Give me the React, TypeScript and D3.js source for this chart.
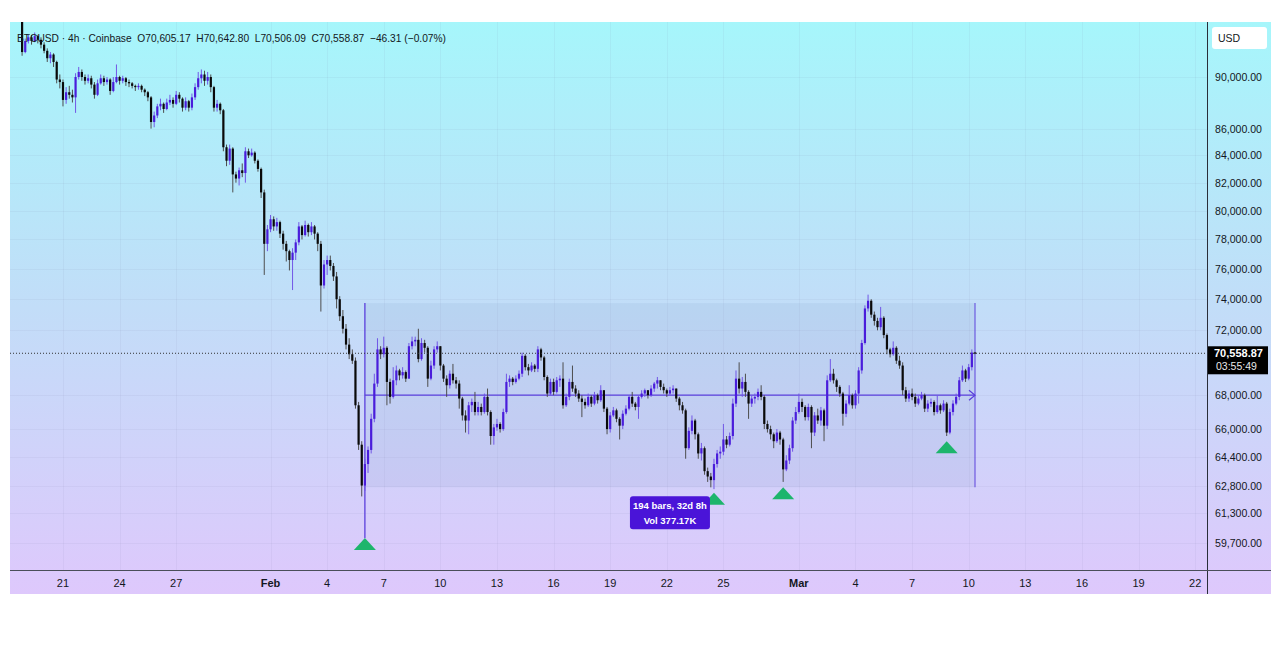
import * as d3 from "d3";

// BTCUSD 4h candles, first visible bar opens Jan 18 20:00 UTC.
// Each bar: [high, low, close] in thousands USD, open = previous close.
const FIRST_BAR = Date.UTC(2026, 0, 18, 20);
const BAR_MS = 4 * 3600 * 1000;
const FIRST_OPEN = 95.0;

const hlc: [number, number, number][] = [
  [95.5, 91.7, 92.0], [93.1, 91.9, 92.9], [93.4, 92.7, 93.2], [93.4, 92.6, 92.9], [93.6, 92.8, 93.3],
  [93.4, 92.7, 93.0], [93.2, 92.3, 92.6], [92.8, 91.9, 92.1], [92.3, 91.2, 91.5], [92.0, 91.1, 91.8],
  [91.9, 90.8, 91.2], [91.3, 89.5, 89.8], [90.2, 89.1, 89.6], [89.8, 87.7, 88.2], [89.2, 87.9, 88.8],
  [89.3, 88.3, 88.6], [89.0, 88.0, 88.4], [90.3, 87.2, 90.0], [90.8, 89.8, 90.4], [90.6, 89.7, 90.0],
  [90.2, 89.4, 89.7], [90.2, 89.5, 89.9], [90.1, 89.1, 89.4], [89.6, 88.3, 88.6], [89.8, 88.5, 89.5],
  [90.2, 89.4, 89.9], [90.1, 89.3, 89.6], [90.0, 89.4, 89.8], [89.9, 88.6, 88.9], [90.0, 88.8, 89.6],
  [91.0, 89.5, 90.0], [90.1, 89.4, 89.7], [90.1, 89.5, 89.9], [90.0, 89.3, 89.6], [89.8, 89.2, 89.5],
  [89.6, 89.1, 89.3], [89.4, 88.9, 89.2], [89.5, 89.0, 89.3], [89.4, 88.8, 89.0], [89.1, 88.5, 88.8],
  [88.9, 88.1, 88.4], [88.5, 86.0, 86.5], [87.3, 86.1, 87.0], [87.9, 86.8, 87.7], [88.3, 87.4, 87.9],
  [88.0, 87.2, 87.5], [88.3, 87.4, 88.0], [88.6, 87.8, 88.2], [88.4, 87.6, 87.9], [88.9, 87.8, 88.6],
  [88.8, 88.0, 88.3], [88.4, 87.3, 87.6], [88.4, 87.4, 88.1], [88.2, 87.3, 87.6], [88.7, 87.4, 88.4],
  [89.5, 88.2, 89.2], [90.4, 89.0, 89.9], [90.6, 89.5, 90.2], [90.5, 89.3, 89.7], [90.4, 89.4, 90.0],
  [90.2, 88.8, 89.2], [89.3, 87.3, 87.6], [88.2, 87.3, 87.9], [88.0, 87.1, 87.4], [87.5, 84.3, 84.6],
  [84.8, 83.2, 83.6], [84.8, 83.3, 84.5], [84.6, 81.3, 82.6], [82.8, 82.0, 82.3], [83.1, 81.8, 82.9],
  [83.4, 82.4, 82.7], [84.6, 82.0, 84.3], [84.5, 83.8, 84.0], [84.5, 83.9, 84.2], [84.3, 83.4, 83.6],
  [83.7, 82.8, 83.0], [83.1, 80.9, 81.3], [81.5, 75.6, 77.7], [79.0, 77.2, 78.7], [79.7, 78.5, 79.4],
  [79.6, 78.6, 78.9], [79.5, 78.6, 79.2], [79.3, 78.1, 78.4], [78.6, 77.3, 77.7], [77.9, 76.5, 77.2],
  [77.3, 75.9, 76.6], [77.4, 74.6, 77.1], [78.0, 76.6, 77.8], [79.2, 77.6, 78.9], [79.0, 78.0, 78.3],
  [79.3, 78.2, 79.0], [79.1, 78.2, 78.5], [79.2, 78.3, 78.9], [79.0, 78.0, 78.4], [78.5, 77.2, 77.7],
  [77.9, 73.2, 74.9], [76.6, 74.7, 76.3], [76.9, 75.6, 76.6], [76.9, 75.9, 76.2], [76.4, 75.2, 75.5],
  [75.8, 73.4, 74.0], [74.2, 72.6, 72.9], [73.3, 71.8, 72.1], [72.4, 70.8, 71.1], [71.5, 70.2, 70.5],
  [70.8, 69.9, 70.1], [70.3, 67.2, 67.4], [67.6, 64.8, 65.1], [65.3, 62.2, 62.8], [64.3, 62.5, 64.0],
  [65.0, 63.5, 64.8], [66.9, 64.6, 66.6], [69.3, 66.4, 68.7], [71.5, 68.5, 70.8], [71.0, 70.2, 70.5],
  [71.6, 70.3, 70.9], [71.0, 67.4, 68.8], [69.0, 67.5, 67.9], [69.7, 67.8, 68.9], [69.8, 68.6, 69.5],
  [69.6, 68.9, 69.2], [69.7, 69.0, 69.4], [69.5, 68.8, 69.0], [71.2, 69.0, 71.0], [71.6, 70.8, 71.3],
  [71.6, 71.0, 71.4], [72.1, 70.0, 70.2], [71.5, 70.1, 71.2], [71.4, 70.6, 70.9], [71.0, 68.5, 69.0],
  [70.1, 68.9, 69.8], [71.0, 69.6, 70.8], [71.3, 70.6, 71.0], [71.0, 69.5, 69.8], [69.9, 68.8, 69.0],
  [69.2, 67.9, 68.6], [69.5, 68.4, 69.3], [69.9, 68.7, 68.9], [69.1, 68.4, 68.7], [68.9, 67.2, 67.8],
  [67.9, 66.5, 66.8], [67.1, 65.8, 66.5], [67.6, 65.7, 67.4], [67.8, 67.0, 67.6], [68.2, 66.8, 67.0],
  [67.6, 66.8, 67.3], [67.5, 66.8, 67.0], [68.1, 66.9, 67.9], [68.4, 66.8, 67.0], [67.1, 65.1, 65.6],
  [66.3, 65.1, 66.1], [66.6, 65.9, 66.3], [66.4, 65.8, 66.0], [67.2, 65.9, 67.0], [69.3, 66.9, 68.8],
  [69.2, 68.5, 69.0], [69.1, 68.6, 68.8], [69.2, 68.7, 69.0], [69.5, 68.9, 69.3], [70.6, 69.1, 70.4],
  [70.5, 69.5, 69.7], [69.9, 69.2, 69.5], [70.0, 69.4, 69.8], [69.9, 69.4, 69.6], [71.0, 69.4, 70.8],
  [70.9, 70.1, 70.3], [70.4, 68.9, 69.1], [69.2, 67.9, 68.1], [69.0, 68.0, 68.8], [69.0, 68.0, 68.2],
  [69.1, 68.1, 68.9], [69.2, 68.5, 69.0], [70.0, 67.2, 67.4], [68.1, 67.3, 67.9], [69.0, 67.7, 68.8],
  [69.8, 68.2, 68.4], [68.6, 67.9, 68.1], [68.3, 67.6, 67.8], [68.0, 66.7, 67.6], [67.8, 67.2, 67.4],
  [68.1, 67.3, 67.9], [68.0, 67.3, 67.5], [68.2, 67.4, 68.0], [68.1, 67.5, 67.7], [68.6, 67.6, 68.3],
  [68.3, 67.0, 67.2], [67.3, 65.7, 66.0], [67.0, 65.8, 66.8], [67.3, 66.7, 67.1], [67.2, 66.4, 66.6],
  [66.7, 65.4, 66.2], [67.1, 66.0, 66.9], [67.4, 66.8, 67.2], [68.0, 67.1, 67.9], [68.2, 67.3, 67.5],
  [67.6, 67.1, 67.3], [68.0, 66.6, 67.9], [68.3, 67.8, 68.1], [68.4, 67.9, 68.3], [68.3, 67.8, 68.0],
  [68.6, 67.9, 68.4], [68.8, 68.2, 68.7], [69.1, 68.4, 68.9], [68.9, 68.3, 68.5], [68.7, 68.1, 68.3],
  [68.4, 67.9, 68.1], [68.5, 68.0, 68.3], [68.6, 68.1, 68.4], [68.4, 67.6, 67.8], [67.9, 67.1, 67.4],
  [67.6, 66.9, 67.1], [67.2, 64.3, 64.9], [66.1, 64.8, 65.9], [66.8, 65.7, 66.5], [66.6, 65.4, 65.7],
  [65.8, 64.3, 64.6], [65.2, 64.2, 64.9], [65.0, 63.4, 63.6], [63.8, 63.0, 63.3], [63.5, 62.7, 63.1],
  [64.3, 62.6, 64.0], [64.8, 63.8, 64.6], [65.0, 64.3, 64.7], [66.3, 64.5, 65.4], [65.6, 64.9, 65.1],
  [65.8, 65.0, 65.6], [67.8, 65.4, 67.5], [69.5, 67.3, 69.0], [70.0, 68.1, 68.4], [69.1, 67.9, 68.8],
  [69.3, 67.9, 68.2], [68.3, 66.6, 67.5], [68.0, 67.3, 67.8], [68.1, 67.5, 67.9], [68.4, 67.7, 68.2],
  [68.6, 67.7, 67.9], [68.0, 66.0, 66.3], [66.5, 65.8, 66.0], [66.2, 65.4, 65.7], [65.8, 64.9, 65.3],
  [66.0, 65.2, 65.8], [65.9, 65.1, 65.4], [65.5, 63.0, 63.7], [64.5, 63.6, 64.2], [65.1, 64.0, 64.9],
  [66.7, 64.7, 66.5], [67.3, 66.3, 67.0], [68.1, 66.9, 67.6], [67.8, 67.0, 67.3], [67.4, 66.5, 66.7],
  [67.5, 66.5, 67.3], [67.4, 64.9, 65.8], [67.0, 65.6, 66.8], [67.2, 66.3, 66.5], [67.3, 66.2, 67.1],
  [67.2, 65.3, 66.2], [69.2, 66.0, 68.9], [70.2, 68.8, 69.3], [69.6, 68.7, 68.9], [69.0, 68.2, 68.5],
  [68.6, 67.9, 68.1], [68.2, 66.2, 66.9], [67.7, 66.7, 67.5], [68.6, 67.4, 68.0], [68.1, 67.2, 67.4],
  [68.3, 67.2, 68.1], [69.7, 67.5, 69.5], [71.4, 69.3, 71.2], [73.6, 71.1, 73.4], [74.3, 73.2, 73.9],
  [74.0, 72.8, 73.0], [73.2, 72.3, 72.6], [72.8, 72.0, 72.2], [73.5, 72.0, 72.8], [72.9, 71.5, 71.7],
  [71.8, 70.5, 70.8], [70.9, 70.3, 70.5], [71.3, 70.4, 70.9], [71.0, 69.9, 70.1], [70.4, 69.6, 69.8],
  [70.0, 68.0, 68.3], [68.5, 67.6, 67.8], [68.3, 67.6, 68.1], [68.4, 67.7, 67.9], [68.1, 67.3, 67.5],
  [68.0, 67.4, 67.8], [68.2, 67.7, 68.0], [68.1, 67.0, 67.2], [67.7, 67.0, 67.5], [67.8, 67.3, 67.6],
  [67.7, 66.8, 67.0], [68.0, 66.9, 67.4], [67.5, 66.9, 67.1], [67.7, 67.0, 67.5], [67.6, 65.6, 65.8],
  [67.2, 65.7, 67.0], [67.7, 66.8, 67.5], [68.1, 67.4, 67.9], [69.1, 67.7, 68.9], [69.8, 68.8, 69.5],
  [69.6, 68.8, 69.0], [69.9, 68.9, 69.7], [70.8, 69.5, 70.60517], [70.6428, 70.50609, 70.55887],
];

const priceTicks = [90000, 86000, 84000, 82000, 80000, 78000, 76000, 74000, 72000, 68000, 66000, 64400, 62800, 61300, 59700];

const dateTicks = [
  "2026-01-21", "2026-01-24", "2026-01-27", "2026-02-01", "2026-02-04", "2026-02-07", "2026-02-10",
  "2026-02-13", "2026-02-16", "2026-02-19", "2026-02-22", "2026-02-25", "2026-03-01", "2026-03-04",
  "2026-03-07", "2026-03-10", "2026-03-13", "2026-03-16", "2026-03-19", "2026-03-22",
];
const dateLabels = ["21", "24", "27", "Feb", "4", "7", "10", "13", "16", "19", "22", "25", "Mar", "4", "7", "10", "13", "16", "19", "22"];

// green arrow-up markers: bar index and apex price (thousands)
const markers = [
  { bar: 109, price: 59.96 },
  { bar: 220, price: 62.4 },
  { bar: 242, price: 62.7 },
  { bar: 294, price: 65.3 },
];

// date range drawing
const rangeFrom = 109;
const rangeTo = 303;
const rangeTop = 73.75;
const rangeBottom = 62.7;
const rangeLabel = ["194 bars, 32d 8h", "Vol 377.17K"];

const header = "BTCUSD · 4h · Coinbase  O70,605.17  H70,642.80  L70,506.09  C70,558.87  −46.31 (−0.07%)";
const lastPrice = 70558.87;
const countdown = "03:55:49";

const W = 1280;
const H = 648;
const frame = { left: 10, top: 22, right: 1271, bottom: 594 };
const plotRight = 1207.5;
const plotBottom = 570.5;

const BULL = "#4a1ddb";
const BULL_WICK = "#7257e6";
const BEAR = "#0a0a0a";
const BEAR_WICK = "#4d4d4d";
const DRAW = "#5a3fdc";
const FONT = "'Liberation Sans', Arial, sans-serif";
const TXT = "#131722";

export default function App() {
  const barTime = (i: number) => new Date(FIRST_BAR + i * BAR_MS);
  const x = d3
    .scaleTime()
    .domain([barTime(0), barTime(hlc.length - 1)])
    .range([22.1, 975]);
  const y = d3.scaleLog().domain([59700, 90000]).range([543, 77]);

  const bars = hlc.map(([h, l, c], i) => {
    const o = i === 0 ? FIRST_OPEN : hlc[i - 1][2];
    return { t: barTime(i), o: o * 1000, h: h * 1000, l: l * 1000, c: c * 1000 };
  });

  const bodyW = 2.2;
  const fmt = d3.format(",.2f");

  const rx0 = x(barTime(rangeFrom));
  const rx1 = x(barTime(rangeTo));
  const ry0 = y(rangeTop * 1000);
  const ry1 = y(rangeBottom * 1000);
  const rMid = (ry0 + ry1) / 2;
  const firstMarker = markers[0];

  const yLast = y(lastPrice);

  return (
    <svg width={W} height={H} style={{ position: "absolute", left: 0, top: 0, background: "#fff" }}>
      <defs>
        <linearGradient id="bg" x1="0" y1={frame.top} x2="0" y2={frame.bottom} gradientUnits="userSpaceOnUse">
          <stop offset="0" stopColor="#a6f6fb" />
          <stop offset="0.5" stopColor="#c2ddf8" />
          <stop offset="1" stopColor="#dec8fc" />
        </linearGradient>
        <clipPath id="plot">
          <rect x={frame.left} y={frame.top} width={plotRight - frame.left} height={plotBottom - frame.top} />
        </clipPath>
      </defs>

      <rect
        x={frame.left}
        y={frame.top}
        width={frame.right - frame.left}
        height={frame.bottom - frame.top}
        fill="url(#bg)"
      />

      {/* grid */}
      <g stroke="rgba(110,120,160,0.07)" strokeWidth={1}>
        {dateTicks.map((d) => {
          const xx = Math.round(x(new Date(d + "T00:00:00Z"))) + 0.5;
          return <line key={d} x1={xx} x2={xx} y1={frame.top} y2={plotBottom} />;
        })}
        {priceTicks.map((p) => {
          const yy = Math.round(y(p)) + 0.5;
          return <line key={p} x1={frame.left} x2={plotRight} y1={yy} y2={yy} />;
        })}
      </g>

      <g clipPath="url(#plot)">
        {/* date range box */}
        <rect x={rx0} y={ry0} width={rx1 - rx0} height={ry1 - ry0} fill="rgba(80,110,170,0.08)" />
        <line x1={rx0} x2={rx0} y1={ry0} y2={y(firstMarker.price * 1000)} stroke={DRAW} strokeWidth={1.3} />
        <line x1={rx1} x2={rx1} y1={ry0} y2={ry1} stroke={DRAW} strokeWidth={1.3} opacity={0.75} />
        <line x1={rx0} x2={rx1} y1={rMid} y2={rMid} stroke={DRAW} strokeWidth={1.2} />
        <path
          d={`M${rx1 - 6},${rMid - 5}L${rx1},${rMid}L${rx1 - 6},${rMid + 5}`}
          fill="none"
          stroke={DRAW}
          strokeWidth={1.2}
        />

        {/* candles */}
        {bars.map((b, i) => {
          const cx = x(b.t);
          const up = b.c >= b.o;
          const top = y(Math.max(b.o, b.c));
          const bot = y(Math.min(b.o, b.c));
          const hi = y(Math.max(b.h, b.o, b.c));
          const lo = y(Math.min(b.l, b.o, b.c));
          return (
            <g key={i}>
              <line x1={cx} x2={cx} y1={hi} y2={lo} stroke={up ? BULL_WICK : BEAR_WICK} strokeWidth={1} />
              <rect
                x={cx - bodyW / 2}
                y={top}
                width={bodyW}
                height={Math.max(1, bot - top)}
                fill={up ? BULL : BEAR}
              />
            </g>
          );
        })}

        {/* last price dotted line */}
        <line
          x1={frame.left}
          x2={plotRight}
          y1={yLast}
          y2={yLast}
          stroke="#333"
          strokeWidth={1}
          strokeDasharray="1,2"
        />

        {/* markers */}
        {markers.map((m) => {
          const mx = x(barTime(m.bar));
          const my = y(m.price * 1000);
          return <path key={m.bar} d={`M${mx},${my}L${mx + 11},${my + 12}L${mx - 11},${my + 12}Z`} fill="#1db56c" />;
        })}
      </g>

      {/* range label */}
      <g>
        <rect x={(rx0 + rx1) / 2 - 40} y={ry1 + 9} width={80} height={33} rx={3} fill="#4a14d8" />
        <text
          x={(rx0 + rx1) / 2}
          y={ry1 + 22}
          textAnchor="middle"
          fill="#fff"
          fontSize={9.5}
          fontFamily={FONT}
          fontWeight={600}
        >
          {rangeLabel[0]}
        </text>
        <text
          x={(rx0 + rx1) / 2}
          y={ry1 + 37}
          textAnchor="middle"
          fill="#fff"
          fontSize={9.5}
          fontFamily={FONT}
          fontWeight={600}
        >
          {rangeLabel[1]}
        </text>
      </g>

      {/* axes lines */}
      <line x1={plotRight} x2={plotRight} y1={frame.top} y2={frame.bottom} stroke="#2a2e39" strokeWidth={1} />
      <line x1={frame.left} x2={frame.right} y1={plotBottom} y2={plotBottom} stroke="#4a4e59" strokeWidth={1} />

      {/* price axis */}
      <g fontFamily={FONT} fontSize={11} fill={TXT}>
        {priceTicks.map((p) => (
          <text key={p} x={1215} y={y(p) + 4} textLength={47} lengthAdjust="spacingAndGlyphs">
            {fmt(p)}
          </text>
        ))}
      </g>
      <rect x={1212} y={27} width={55} height={22} rx={3} fill="#ffffff" />
      <text x={1218} y={42} fontFamily={FONT} fontSize={10.5} fill={TXT}>
        USD
      </text>
      <rect x={1208} y={yLast - 7} width={60} height={28} fill="#000" />
      <text x={1214} y={yLast + 4} fontFamily={FONT} fontSize={11} fontWeight={700} fill="#fff">
        {fmt(lastPrice)}
      </text>
      <text x={1216} y={yLast + 17} fontFamily={FONT} fontSize={10.5} fill="#e8e8e8">
        {countdown}
      </text>

      {/* time axis */}
      <g fontFamily={FONT} fontSize={11} fill={TXT} textAnchor="middle">
        {dateTicks.map((d, i) => (
          <text
            key={d}
            x={x(new Date(d + "T00:00:00Z"))}
            y={587}
            fontWeight={dateLabels[i].length === 3 ? 700 : 400}
          >
            {dateLabels[i]}
          </text>
        ))}
      </g>

      {/* legend header */}
      <text
        x={17}
        y={42}
        fontFamily={FONT}
        fontSize={11}
        fill={TXT}
        style={{ whiteSpace: "pre" }}
        textLength={429}
        lengthAdjust="spacingAndGlyphs"
      >
        {header}
      </text>
    </svg>
  );
}
